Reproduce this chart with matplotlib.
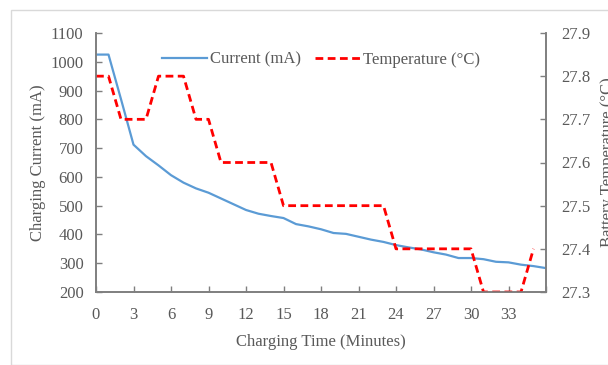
import matplotlib.pyplot as plt
from matplotlib.patches import Rectangle

# charging current (mA), one reading per minute
t_cur = list(range(0, 37))
current = [1025, 1025, 870, 712, 672, 640, 606, 580, 560, 545, 525, 505, 485,
           472, 464, 457, 436, 428, 418, 405, 402, 392, 382, 374, 363, 355,
           348, 338, 330, 318, 318, 314, 305, 303, 295, 290, 283]

# battery temperature (degC)
t_tmp = list(range(0, 36))
temp = [27.8, 27.8, 27.7, 27.7, 27.7, 27.8, 27.8, 27.8, 27.7, 27.7, 27.6, 27.6,
        27.6, 27.6, 27.6, 27.5, 27.5, 27.5, 27.5, 27.5, 27.5, 27.5, 27.5, 27.5,
        27.4, 27.4, 27.4, 27.4, 27.4, 27.4, 27.4, 27.3, 27.3, 27.3, 27.3, 27.4]

xticks = list(range(0, 34, 3))

txt = "#595959"
ax_col = "#7f7f7f"
plt.rcParams['font.family'] = ['Liberation Serif', 'DejaVu Serif']
plt.rcParams['font.size'] = 12

fig = plt.figure(figsize=(6.08, 3.65), dpi=100)
fig.patches.append(Rectangle((11/608, 0), 2, 1 - 10/365, transform=fig.transFigure,
                             fill=False, edgecolor="#d9d9d9", linewidth=1))
ax = fig.add_axes([96/608, 1 - 292/365, 450/608, 259/365])
ax2 = ax.twinx()

l1, = ax.plot(t_cur, current, color="#5b9bd5", lw=1.6, label="Current (mA)")
l2, = ax2.plot(t_tmp, temp, color="#ff0000", lw=2.0, ls=(0, (2.8, 1.6)),
               label="Temperature (°C)")

ax.set_xlim(0, 36)
ax.set_ylim(200, 1100)
ax.set_yticks(range(200, 1101, 100))
ax.set_xticks(xticks + [36])
ax.set_xticklabels([str(v) for v in xticks] + [""])
ax2.set_ylim(27.3, 27.9)
ax2.set_yticks([27.3, 27.4, 27.5, 27.6, 27.7, 27.8, 27.9])

for a in (ax, ax2):
    a.spines['top'].set_visible(False)
    for s in ('left', 'right', 'bottom'):
        a.spines[s].set_color(ax_col)
        a.spines[s].set_linewidth(1.2)
    a.tick_params(direction='in', length=4, colors=ax_col, labelcolor=txt, width=1)
ax.tick_params(axis='y', pad=9)
ax.tick_params(axis='x', pad=11)
ax2.tick_params(axis='y', pad=11)

ax.set_xlabel("Charging Time (Minutes)", color=txt, labelpad=8)
ax.set_ylabel("Charging Current (mA)", color=txt, labelpad=3)
ax2.set_ylabel("Battery Temperature (°C)", color=txt, labelpad=7)

ax.legend([l1, l2], [l1.get_label(), l2.get_label()], loc='upper center',
          bbox_to_anchor=(0.5, 0.985), ncol=2, frameon=False, handlelength=2.7,
          handletextpad=0.2, columnspacing=0.8, labelcolor=txt)

fig.savefig("out.png", dpi=100)
